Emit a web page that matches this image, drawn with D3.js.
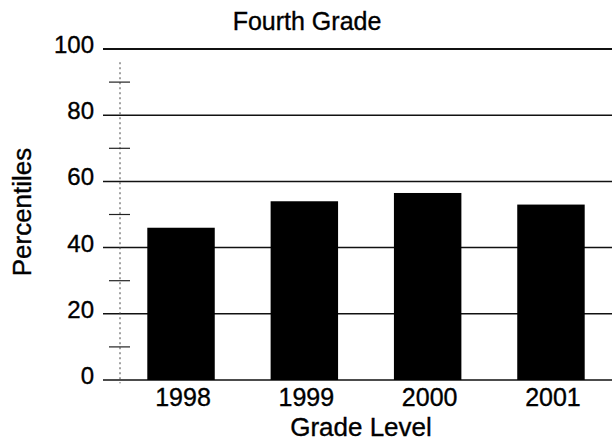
<!DOCTYPE html>
<html>
<head>
<meta charset="utf-8">
<script src="https://cdn.jsdelivr.net/npm/d3@7"></script>
<style>
  html, body { margin: 0; padding: 0; background: #fff; }
  svg { display: block; }
  text { font-family: "Liberation Sans", Arial, Helvetica, sans-serif; fill: #000; stroke: #000; stroke-width: 0.35px; }
</style>
</head>
<body>
<svg id="chart" width="612" height="443"></svg>
<script>
// Fourth-grade percentile results by year
const years = ["1998", "1999", "2000", "2001"];
const percentiles = [46, 54, 56.5, 53];
const yTicks = [0, 20, 40, 60, 80, 100];
const yMinorTicks = [10, 30, 50, 70, 90];
const chartTitle = "Fourth Grade";
const xTitle = "Grade Level";
const yTitle = "Percentiles";

const svg = d3.select("#chart");
const W = 612;

const y = d3.scaleLinear().domain([0, 100]).range([380, 49]);
const x = d3.scaleBand()
  .domain(years)
  .range([110, 622])
  .paddingInner(0.453)
  .paddingOuter(0.3025);

const gridLeft = 103;

// horizontal grid lines at each major tick
svg.append("g")
  .selectAll("line")
  .data(yTicks)
  .join("line")
  .attr("x1", gridLeft)
  .attr("x2", W)
  .attr("y1", d => y(d))
  .attr("y2", d => y(d))
  .attr("stroke", "#111")
  .attr("stroke-width", d => d === 100 ? 2 : 1.5);

// dotted vertical axis with minor tick marks
svg.append("line")
  .attr("x1", 120).attr("x2", 120)
  .attr("y1", y(96)).attr("y2", y(-1))
  .attr("stroke", "#444")
  .attr("stroke-width", 1)
  .attr("stroke-dasharray", "2,3");

svg.append("g")
  .selectAll("line")
  .data(yMinorTicks)
  .join("line")
  .attr("x1", 109).attr("x2", 130)
  .attr("y1", d => y(d)).attr("y2", d => y(d))
  .attr("stroke", "#222")
  .attr("stroke-width", 1.2);

// bars
svg.append("g")
  .selectAll("rect")
  .data(years.map((yr, i) => ({ yr, v: percentiles[i] })))
  .join("rect")
  .attr("x", d => x(d.yr))
  .attr("width", x.bandwidth())
  .attr("y", d => y(d.v))
  .attr("height", d => y(0) - y(d.v))
  .attr("fill", "#000");

// y tick labels
svg.append("g")
  .selectAll("text")
  .data(yTicks)
  .join("text")
  .attr("x", 94)
  .attr("y", d => y(d) + 4)
  .attr("text-anchor", "end")
  .attr("font-size", 24)
  .text(d => d);

// x tick labels
svg.append("g")
  .selectAll("text")
  .data(years)
  .join("text")
  .attr("x", d => x(d) + x.bandwidth() / 2 + 2)
  .attr("y", 406)
  .attr("text-anchor", "middle")
  .attr("font-size", 25)
  .text(d => d);

// titles
svg.append("text")
  .attr("x", 307).attr("y", 30)
  .attr("text-anchor", "middle")
  .attr("font-size", 25)
  .text(chartTitle);

svg.append("text")
  .attr("x", 361).attr("y", 436)
  .attr("text-anchor", "middle")
  .attr("font-size", 26)
  .text(xTitle);

svg.append("text")
  .attr("transform", "translate(31,212) rotate(-90)")
  .attr("text-anchor", "middle")
  .attr("font-size", 26)
  .text(yTitle);
</script>
</body>
</html>
